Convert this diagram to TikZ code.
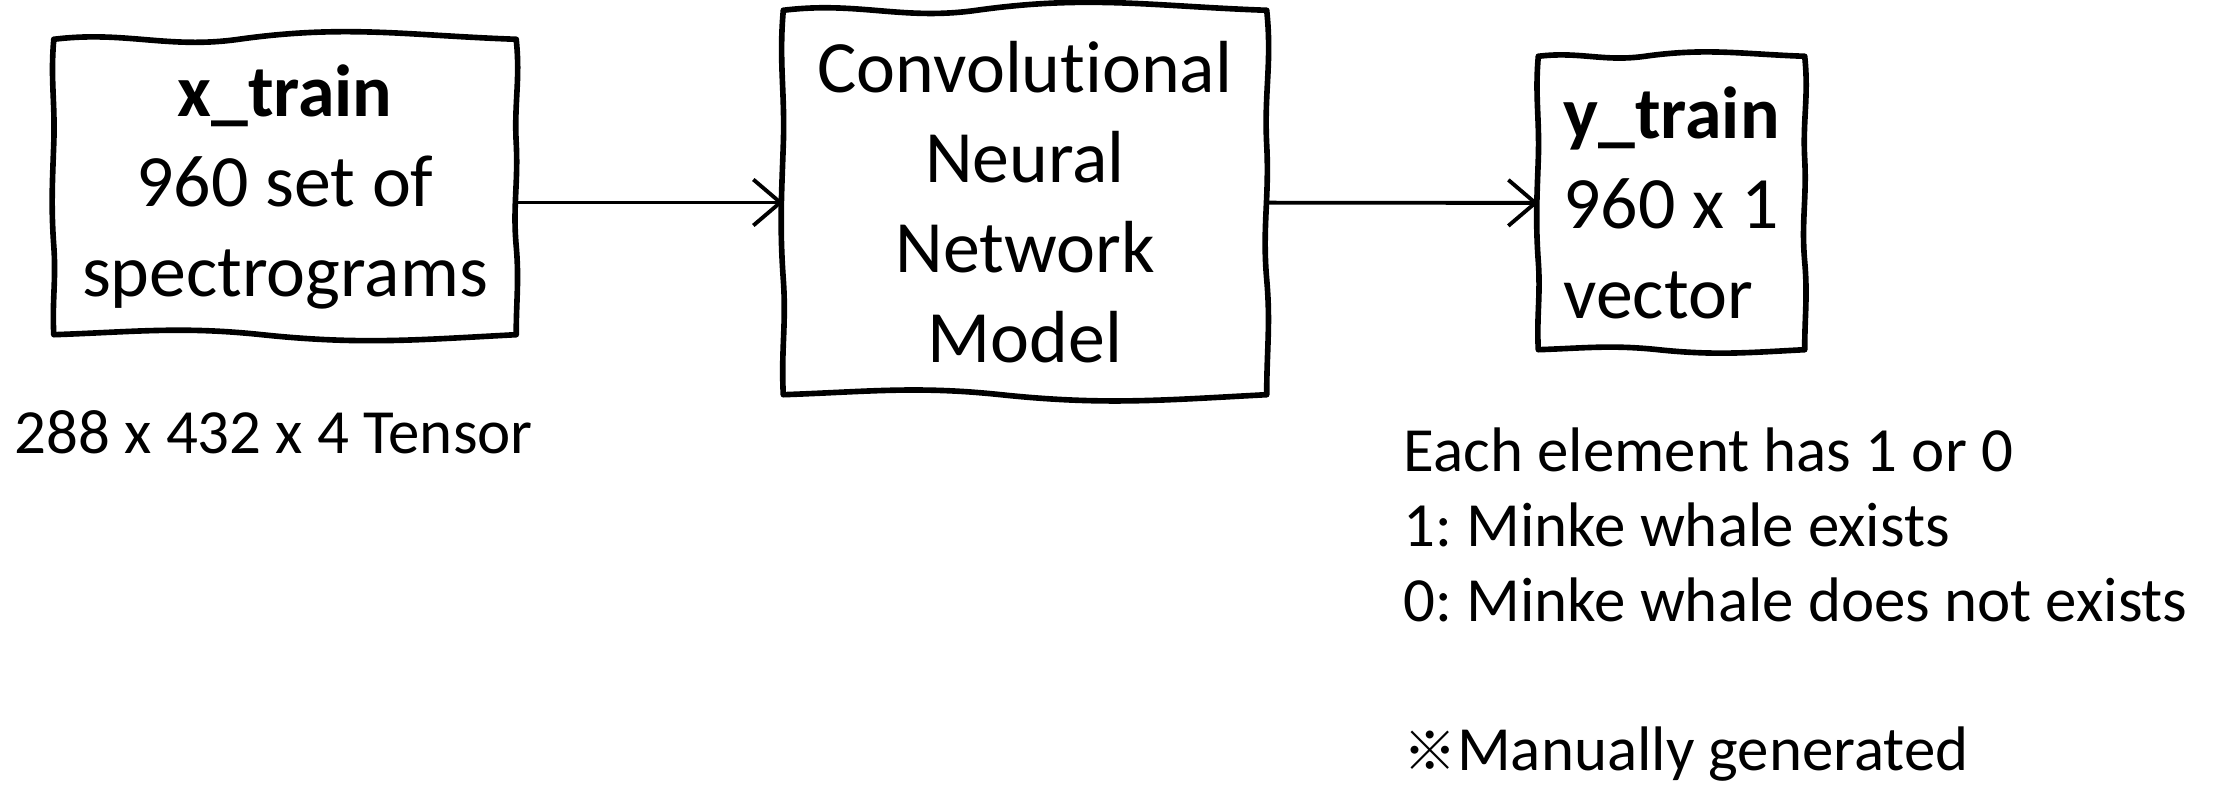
\documentclass[tikz,border=0pt]{standalone}
\usepackage{fontspec}
\setmainfont{Carlito}[Ligatures=NoCommon]
\newfontfamily\cjk{Noto Sans CJK JP}
\usetikzlibrary{arrows.meta,calc}

% hand drawn outline round a named node
\newcommand{\sketchbox}[1]{%
	\draw[sketch_line] (#1.north west)
		to[out=7,in=188] ($(#1.north west)!0.4!(#1.north east)$)
		to[out=8,in=178] (#1.north east)
		to[out=-84,in=93] ($(#1.north east)!0.35!(#1.south east)$)
		to[out=-87,in=95] ($(#1.north east)!0.7!(#1.south east)$)
		to[out=-85,in=90] (#1.south east)
		to[out=183,in=-6] ($(#1.south east)!0.55!(#1.south west)$)
		to[out=174,in=2] (#1.south west)
		to[out=93,in=-86] ($(#1.south west)!0.3!(#1.north west)$)
		to[out=94,in=-92] ($(#1.south west)!0.65!(#1.north west)$)
		to[out=88,in=-95] (#1.north west) -- cycle;}

\begin{document}
\frenchspacing
\begin{tikzpicture}[
		box_style/.style={inner sep=0pt, font=\fontsize{21}{25.6}\selectfont},
		sketch_line/.style={draw=black, line width=1.6pt, line join=round},
		note_style/.style={inner sep=0pt, font=\fontsize{17.9}{21.3}\selectfont},
		edge_style/.style={draw=black, line width=1.1pt, -{Straight Barb[length=2.7mm, width=4.6mm]}}]
		
		\useasboundingbox (0,0) rectangle (22.31,-7.89);
		
		\node[box_style, minimum width=4.61cm, minimum height=2.94cm, align=center] (x_train) at (2.85,-1.87) {\textbf{x\_train}\\960 set of\\spectrograms};
		\node[box_style, minimum width=4.82cm, minimum height=3.83cm, align=center] (cnn) at (10.25,-2.025) {Convolutional\\Neural\\Network\\Model};
		\node[box_style, minimum width=2.65cm, minimum height=2.92cm, align=left] (y_train) at (16.715,-2.03) {\textbf{y\_train}\\960 x 1\\vector};
		
		\sketchbox{x_train}
		\sketchbox{cnn}
		\sketchbox{y_train}
		
		\node[note_style, anchor=base west] (tensor) at (0.14,-4.54) {288 x 432 x 4 Tensor};
		\node[note_style, anchor=north west, align=left] (label_note) at (14.03,-4.27) {Each element has 1 or 0\\1: Minke whale exists\\0: Minke whale does not exists\\[21.3pt]{\cjk\fontsize{15.2}{21.3}\selectfont ※}Manually generated};
		
		\draw[edge_style] (x_train.east |- cnn) -- (cnn);
		\draw[edge_style] (cnn) -- (y_train);
		
\end{tikzpicture}
\end{document}
